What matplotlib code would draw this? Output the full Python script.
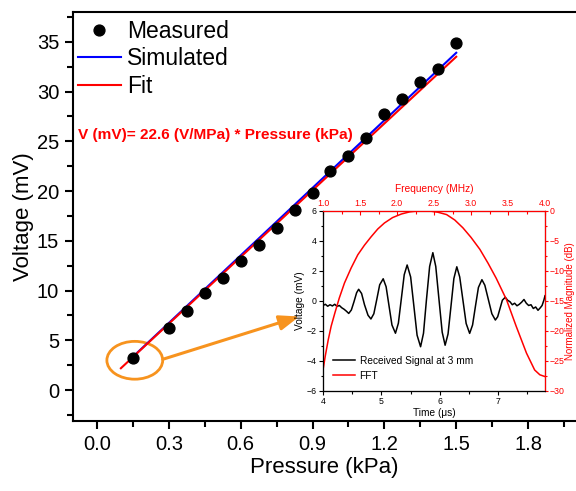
import matplotlib
matplotlib.use('Agg')
import matplotlib.pyplot as plt
from matplotlib.patches import Ellipse
from matplotlib.ticker import MultipleLocator, FormatStrFormatter

plt.rcParams['font.family'] = ['Liberation Sans', 'DejaVu Sans']

# ---- main panel data ----
pressure = [0.15, 0.30, 0.375, 0.45, 0.525, 0.60, 0.675, 0.75, 0.825, 0.90,
            0.975, 1.05, 1.125, 1.20, 1.275, 1.35, 1.425, 1.50]
voltage = [3.2, 6.2, 7.95, 9.75, 11.25, 12.95, 14.6, 16.3, 18.1, 19.8,
           22.0, 23.5, 25.3, 27.7, 29.3, 31.0, 32.3, 34.9]
sim_p = [0.15, 1.50]
sim_v = [3.35, 33.9]
fit_p = [0.10, 1.50]
fit_v = [2.2, 33.5]

# ---- inset data: received signal ----
sig_t = [4.00, 4.04, 4.08, 4.12, 4.16, 4.20, 4.24, 4.28, 4.32, 4.36, 4.40, 4.44,
         4.485, 4.53, 4.575, 4.61, 4.66, 4.71, 4.77, 4.82,
         4.87, 4.92, 4.97, 5.03, 5.08, 5.13, 5.18, 5.24,
         5.29, 5.34, 5.39, 5.44, 5.50, 5.555, 5.61, 5.67,
         5.72, 5.77, 5.825, 5.88, 5.93, 5.985, 6.04, 6.09,
         6.14, 6.19, 6.24, 6.29, 6.34, 6.395, 6.45, 6.51,
         6.56, 6.61, 6.66, 6.72, 6.77, 6.83, 6.89, 6.95,
         6.99, 7.03, 7.07, 7.12, 7.16, 7.20, 7.24, 7.28, 7.32, 7.36, 7.40,
         7.44, 7.48, 7.52, 7.56, 7.60, 7.64, 7.68, 7.72, 7.75, 7.78, 7.80]
sig_v = [-0.30, -0.22, -0.35, -0.25, -0.33, -0.22, -0.36, -0.30, -0.45, -0.55, -0.68, -0.83,
         -0.60, -0.05, 0.55, 0.78, 0.50, -0.25, -0.95, -1.20,
         -0.85, 0.10, 1.08, 1.48, 0.95, -0.33, -1.60, -2.15,
         -1.48, 0.13, 1.75, 2.40, 1.60, -0.33, -2.28, -3.05,
         -2.15, 0.06, 2.30, 3.22, 2.30, 0.10, -2.08, -2.95,
         -2.20, -0.36, 1.50, 2.28, 1.60, 0.05, -1.50, -2.16,
         -1.60, -0.33, 0.90, 1.42, 1.05, 0.10, -0.85, -1.27,
         -1.05, -0.50, 0.05, 0.25, 0.05, -0.05, -0.25, -0.15, -0.32, -0.22, -0.08,
         0.10, -0.15, -0.30, -0.25, -0.50, -0.40, -0.62, -0.45, -0.30, 0.05, 0.35]

# ---- inset data: FFT ----
fft_f = [1.00, 1.03, 1.07, 1.11, 1.16, 1.22, 1.29, 1.38, 1.47, 1.56, 1.65, 1.74, 1.83,
         1.94, 2.06, 2.17, 2.28, 2.36, 2.44, 2.55, 2.67, 2.78, 2.89, 3.00, 3.12,
         3.23, 3.34, 3.48, 3.61, 3.75, 3.86, 3.93, 4.00]
fft_db = [-26.5, -24.2, -21.5, -19.2, -17.0, -14.5, -12.0, -9.5, -7.3, -5.7, -4.3, -3.0, -2.0,
          -1.1, -0.5, -0.15, 0.0, 0.0, 0.0, -0.2, -0.6, -1.5, -2.8, -4.4, -6.4,
          -8.7, -11.2, -14.8, -19.2, -23.7, -26.5, -27.3, -27.6]

red = '#ff0000'
orange = '#f7931e'

fig = plt.figure(figsize=(5.76, 4.91), dpi=100)
ax = fig.add_axes([0.1267, 0.1426, 0.8733, 0.833])

ax.plot(pressure, voltage, 'o', color='black', markersize=7.8, label='Measured', zorder=3)
ax.plot(sim_p, sim_v, color='#0000ff', lw=1.5, label='Simulated')
ax.plot(fit_p, fit_v, color=red, lw=1.5, label='Fit')

ax.set_xlim(-0.1, 2.0)
ax.set_ylim(-3.1, 38.0)
ax.xaxis.set_minor_locator(MultipleLocator(0.15))
ax.yaxis.set_major_locator(MultipleLocator(5))
ax.yaxis.set_minor_locator(MultipleLocator(2.5))
ax.set_xticks([0.0, 0.3, 0.6, 0.9, 1.2, 1.5, 1.8])
ax.set_xticklabels(['0.0', '0.3', '0.6', '0.9', '1.2', '1.5', '1.8'])
ax.tick_params(which='major', direction='out', length=6, width=1.5, labelsize=14.5, pad=4)
ax.tick_params(which='minor', direction='out', length=4, width=1.5)
for s in ['left', 'bottom', 'top']:
    ax.spines[s].set_linewidth(1.5)
ax.spines['right'].set_visible(False)
ax.set_xlabel('Pressure (kPa)', fontsize=16, labelpad=2)
ax.set_ylabel('Voltage (mV)', fontsize=16, labelpad=2)

ax.legend(loc='upper left', bbox_to_anchor=(-0.017, 1.015), frameon=False, fontsize=16.5,
          handlelength=1.85, handletextpad=0.3, labelspacing=0.2, borderaxespad=0.2)

ax.text(-0.08, 25.6, 'V (mV)= 22.6 (V/MPa) * Pressure (kPa)', color=red,
        fontsize=11.1, fontweight='bold', va='center')

ax.add_patch(Ellipse((0.158, 3.0), 0.233, 3.8, fill=False, edgecolor=orange, lw=2))
ax.annotate('', xy=(0.845, 7.4), xytext=(0.275, 3.1),
            arrowprops=dict(arrowstyle='-|>,head_length=1.2,head_width=0.45',
                            color=orange, lw=2.2, shrinkA=0, shrinkB=0))

# ---- inset ----
ins = fig.add_axes([0.5608, 0.2037, 0.3854, 0.3666])
ins.plot(sig_t, sig_v, color='black', lw=1.1, label='Received Signal at 3 mm')
ins.plot([], [], color=red, lw=1.1, label='FFT')
ins.set_xlim(4, 7.8)
ins.set_ylim(-6, 6)
ins.xaxis.set_major_locator(MultipleLocator(1))
ins.xaxis.set_minor_locator(MultipleLocator(0.5))
ins.yaxis.set_major_locator(MultipleLocator(2))
ins.yaxis.set_minor_locator(MultipleLocator(1))
ins.tick_params(which='both', direction='out', labelsize=6.3, width=0.8, pad=1.5)
ins.tick_params(which='major', length=3)
ins.tick_params(which='minor', length=1.8)
ins.set_xlabel('Time (μs)', fontsize=7.3, labelpad=1)
ins.set_ylabel('Voltage (mV)', fontsize=7.3, labelpad=1)
ins.spines['left'].set_color('#333333')
ins.spines['bottom'].set_color('#333333')
ins.legend(loc='lower left', frameon=False, fontsize=7.3, handlelength=2.2,
           handletextpad=0.4, labelspacing=0.5, borderaxespad=0.6)

# right axis: dB scale
rax = ins.twinx()
rax.set_ylim(-30, 0)
rax.yaxis.set_major_locator(MultipleLocator(5))
rax.yaxis.set_minor_locator(MultipleLocator(2.5))
rax.tick_params(axis='y', which='both', direction='out', colors=red, labelsize=6.3, width=0.8, pad=1)
rax.tick_params(axis='y', which='major', length=2.5)
rax.tick_params(axis='y', which='minor', length=1.5)
rax.set_ylabel('Normalized Magnitude (dB)', fontsize=7, color=red, labelpad=0)
rax.spines['right'].set_color(red)
rax.spines['top'].set_color(red)

# top axis: frequency scale, FFT curve
fx = rax.twiny()
fx.plot(fft_f, fft_db, color=red, lw=1.1)
fx.set_xlim(1.0, 4.0)
fx.xaxis.set_major_locator(MultipleLocator(0.5))
fx.xaxis.set_minor_locator(MultipleLocator(0.25))
fx.xaxis.set_major_formatter(FormatStrFormatter('%.1f'))
fx.tick_params(axis='x', which='both', direction='in', colors=red, labelsize=6.3, width=0.8, pad=2.5)
fx.tick_params(axis='x', which='major', length=3)
fx.tick_params(axis='x', which='minor', length=1.8)
fx.set_xlabel('Frequency (MHz)', fontsize=7.3, color=red, labelpad=5)
fx.spines['right'].set_color(red)
fx.spines['top'].set_color(red)

fig.savefig('out.png', dpi=100)
